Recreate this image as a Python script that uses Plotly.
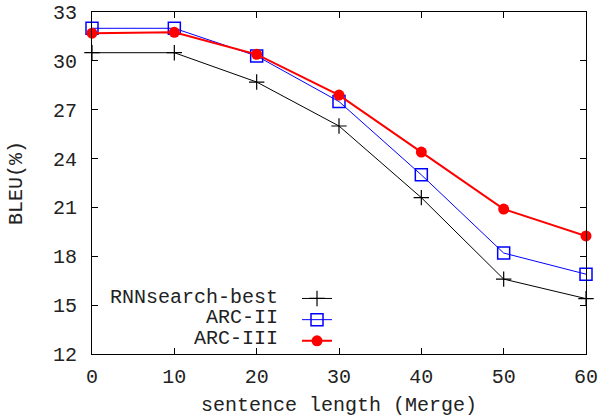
import plotly.graph_objects as go

lengths = [0, 10, 20, 30, 40, 50, 60]
rnnsearch_best = [30.5, 30.5, 28.7, 26.0, 21.6, 16.6, 15.4]
arc_ii = [32.0, 32.0, 30.3, 27.5, 23.0, 18.2, 16.9]
arc_iii = [31.7, 31.75, 30.4, 27.9, 24.4, 20.9, 19.25]

series_names = ["RNNsearch-best", "ARC-II", "ARC-III"]
x_ticks = [0, 10, 20, 30, 40, 50, 60]
y_ticks = [12, 15, 18, 21, 24, 27, 30, 33]

FONT = "Liberation Mono"
TXT = "#222222"

fig = go.Figure()
fig.add_trace(go.Scatter(
    x=lengths, y=rnnsearch_best, name="", mode="lines+markers",
    line=dict(color="black", width=1),
    marker=dict(symbol="cross-thin", size=11, line=dict(color="black", width=1.2)),
    cliponaxis=False))
fig.add_trace(go.Scatter(
    x=lengths, y=arc_ii, name="", mode="lines+markers",
    line=dict(color="#0000ff", width=1),
    marker=dict(symbol="square-open", size=12, color="#0000ff", line=dict(width=1.5)),
    cliponaxis=False))
fig.add_trace(go.Scatter(
    x=lengths, y=arc_iii, name="", mode="lines+markers",
    line=dict(color="#ff0000", width=2),
    marker=dict(symbol="circle", size=11, color="#ff0000"),
    cliponaxis=False))

axis_common = dict(
    showgrid=False, zeroline=False, showline=True, linecolor="black", linewidth=1,
    mirror="allticks", ticks="inside", ticklen=6, tickcolor="black", tickwidth=1,
    tickfont=dict(family=FONT, size=20, color=TXT), automargin=False,
    ticklabeloverflow="allow",
)

fig.update_xaxes(range=[0, 60], tickvals=x_ticks, ticklabelstandoff=4,
                 title=dict(text="sentence length (Merge)", font=dict(family=FONT, size=20, color=TXT), standoff=17),
                 **axis_common)
fig.update_yaxes(range=[12, 33], tickvals=y_ticks, ticklabelstandoff=10,
                 title=dict(text="BLEU(%)", font=dict(family=FONT, size=20, color=TXT), standoff=24),
                 **axis_common)

# legend labels placed to the left of the legend samples
label_rows = [0.166, 0.106, 0.045]
for name, yy in zip(series_names, label_rows):
    fig.add_annotation(x=0.379, y=yy, xref="paper", yref="paper", text=name,
                       showarrow=False, xanchor="right", yanchor="middle",
                       height=19, borderpad=0,
                       font=dict(family=FONT, size=20, color=TXT))

fig.update_layout(
    width=599, height=417,
    margin=dict(l=92, r=13, t=12, b=63),
    plot_bgcolor="white", paper_bgcolor="white",
    showlegend=True,
    legend=dict(x=0.415, y=0.208, xanchor="left", yanchor="top",
                bgcolor="rgba(0,0,0,0)", font=dict(family=FONT, size=14),
                tracegroupgap=0, itemwidth=30),
)

# remove the default page margin so the figure fills the window exactly
fig.write_html("out.html", config={"displayModeBar": False},
               post_script="document.body.style.margin='0';")
